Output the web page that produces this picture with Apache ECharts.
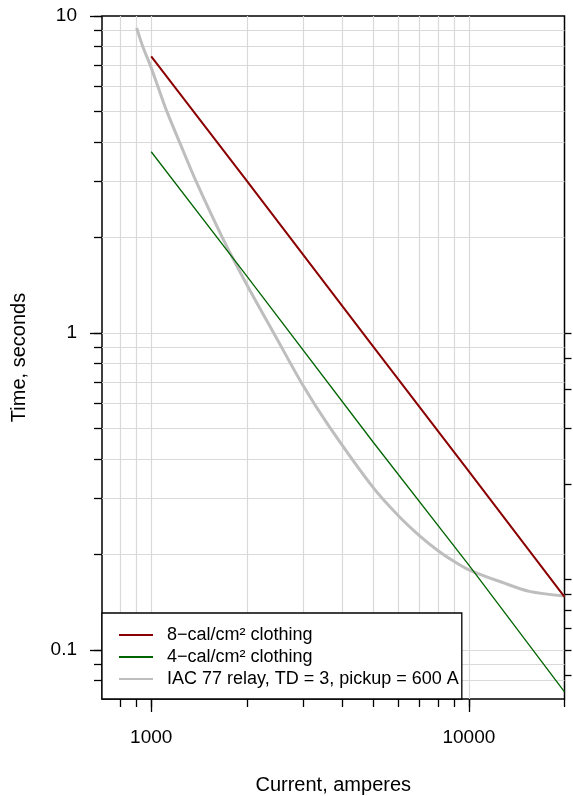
<!DOCTYPE html>
<html><head><meta charset="utf-8">
<script src="https://cdn.jsdelivr.net/npm/echarts@6/dist/echarts.min.js"></script>
<style>html,body{margin:0;padding:0;background:#fff}#c{width:573px;height:796px}</style>
</head><body><div id="c"></div>
<script>
const seriesNames = ['8\u2212cal/cm\u00B2 clothing', '4\u2212cal/cm\u00B2 clothing', 'IAC 77 relay, TD = 3, pickup = 600 A'];
const clothing8Current = [1000, 2000, 5000, 10000, 20000];
const clothing8Time = [7.46, 3.02, 0.905, 0.366, 0.147];
const clothing4Current = [1000, 2000, 5000, 10000, 20000];
const clothing4Time = [3.73, 1.51, 0.452, 0.185, 0.0737];
const relayCurrent = [900, 941, 993, 1049, 1120, 1228, 1386, 1675, 2000, 2430, 3000, 3600, 5000, 6000, 7000, 8000, 9000, 10000, 12800, 15500, 20000];
const relayTime = [9.17, 8, 7, 6, 5, 4, 3, 2, 1.42, 1.0, 0.685, 0.514, 0.325, 0.265, 0.229, 0.2056, 0.19, 0.179, 0.163, 0.153, 0.148];
const xMajorTicks = [1000, 10000];
const xMinorTicks = [800, 900, 1000, 2000, 3000, 4000, 5000, 6000, 7000, 8000, 9000, 10000, 20000];
const xGridValues = [800, 900, 1000, 2000, 3000, 4000, 5000, 6000, 7000, 8000, 9000, 10000];
const yMajorTicks = [0.1, 1, 10];
const yMinorTicks = [0.08, 0.09, 0.1, 0.2, 0.3, 0.4, 0.5, 0.6, 0.7, 0.8, 0.9, 1, 2, 3, 4, 5, 6, 7, 8, 9, 10];
const yGridValues = [0.08, 0.09, 0.1, 0.2, 0.3, 0.4, 0.5, 0.6, 0.7, 0.8, 0.9, 1, 2, 3, 4, 5, 6, 7, 8, 9];
const cycleTicks = [5, 6, 7, 8, 9, 10, 20, 30, 40, 50, 60];

const FONT = '"Liberation Sans", Arial, Helvetica, sans-serif';
const zip = (a, b) => a.map((v, i) => [v, b[i]]);
const chart = echarts.init(document.getElementById('c'), null, {renderer: 'canvas'});
const tickStyle = {color: '#000', width: 1.3};
const gridLine = {show: true, lineStyle: {color: '#d9d9d9', width: 1.2, type: 'solid'}};
const X_RANGE = {type: 'log', logBase: 10, min: 700, max: 20000, position: 'bottom'};
const Y_RANGE = {type: 'log', logBase: 10, min: 0.07, max: 10, position: 'left'};

chart.setOption({
  animation: false,
  backgroundColor: '#fff',
  grid: {left: 102, right: 8.5, top: 16, bottom: 97, outerBoundsMode: 'none', containLabel: false,
         show: true, borderColor: '#000', borderWidth: 1.5, backgroundColor: 'transparent'},
  xAxis: [
    Object.assign({}, X_RANGE, {
     axisLine: {show: false}, axisTick: {show: false, customValues: xGridValues},
     axisLabel: {show: false}, splitLine: gridLine}),
    Object.assign({}, X_RANGE, {
     axisLine: {show: false}, axisTick: {show: true, inside: false, length: 8, customValues: xMinorTicks, lineStyle: tickStyle},
     axisLabel: {show: false}, splitLine: {show: false}}),
    Object.assign({}, X_RANGE, {
     axisLine: {show: false}, axisTick: {show: true, inside: false, length: 13, customValues: xMajorTicks, lineStyle: tickStyle},
     axisLabel: {show: true, customValues: xMajorTicks, margin: 29, fontSize: 19, color: '#000', fontFamily: FONT,
                 formatter: v => String(Math.round(v))},
     splitLine: {show: false},
     name: 'Current, amperes', nameLocation: 'middle', nameGap: 76,
     nameTextStyle: {fontSize: 20, color: '#000', fontFamily: FONT}})
  ],
  yAxis: [
    Object.assign({}, Y_RANGE, {
     axisLine: {show: false}, axisTick: {show: false, customValues: yGridValues},
     axisLabel: {show: false}, splitLine: gridLine}),
    Object.assign({}, Y_RANGE, {
     axisLine: {show: false}, axisTick: {show: true, inside: false, length: 8, customValues: yMinorTicks, lineStyle: tickStyle},
     axisLabel: {show: false}, splitLine: {show: false}}),
    Object.assign({}, Y_RANGE, {
     axisLine: {show: false}, axisTick: {show: true, inside: false, length: 12, customValues: yMajorTicks, lineStyle: tickStyle},
     axisLabel: {show: true, customValues: yMajorTicks, margin: 25, fontSize: 19, color: '#000', fontFamily: FONT,
                 formatter: v => String(+Number(v).toPrecision(3))},
     splitLine: {show: false},
     name: 'Time, seconds', nameLocation: 'middle', nameGap: 73, nameRotate: 90,
     nameTextStyle: {fontSize: 20, color: '#000', fontFamily: FONT}}),
    {type: 'log', logBase: 10, min: 4.2, max: 600, position: 'right',
     axisLine: {show: false}, axisTick: {show: true, inside: false, length: 7, customValues: cycleTicks, lineStyle: tickStyle},
     axisLabel: {show: false}, splitLine: {show: false}}
  ],
  legend: {
    orient: 'vertical', left: 102, bottom: 97, data: seriesNames, selectedMode: false,
    itemWidth: 34, itemHeight: 18, itemGap: 4, padding: [13, 3, 11, 16],
    backgroundColor: '#fff', borderColor: '#000', borderWidth: 1.3, borderRadius: 0,
    itemStyle: {opacity: 0},
    textStyle: {fontSize: 18, color: '#000', fontFamily: FONT, padding: [0, 0, 0, 9]}
  },
  series: [
    {type: 'line', name: seriesNames[2], data: zip(relayCurrent, relayTime), symbol: 'none',
     smooth: 0.3,
     lineStyle: {color: '#bebebe', width: 3}, itemStyle: {color: '#bebebe'}, z: 2},
    {type: 'line', name: seriesNames[0], data: zip(clothing8Current, clothing8Time), symbol: 'none',
     lineStyle: {color: '#8b0000', width: 2}, itemStyle: {color: '#8b0000'}, z: 3},
    {type: 'line', name: seriesNames[1], data: zip(clothing4Current, clothing4Time), symbol: 'none',
     lineStyle: {color: '#006400', width: 1.3}, itemStyle: {color: '#006400'}, z: 3}
  ]
});
</script></body></html>
